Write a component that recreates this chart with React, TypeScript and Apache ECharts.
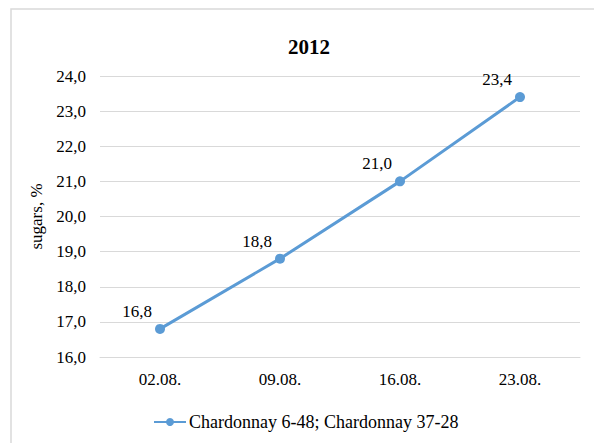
import React, { useEffect, useRef } from "react";
import * as echarts from "echarts";

const categories = ["02.08.", "09.08.", "16.08.", "23.08."];
const sugars = [16.8, 18.8, 21.0, 23.4];
const seriesName = "Chardonnay 6-48; Chardonnay 37-28";
const titleText = "2012";
const yAxisName = "sugars, %";

const fmt = (v: number) => v.toFixed(1).replace(".", ",");
const FONT = "Liberation Serif";

export default function App() {
  const ref = useRef<HTMLDivElement>(null);
  useEffect(() => {
    if (!ref.current) return;
    const chart = echarts.init(ref.current, null, { renderer: "svg" });
    chart.setOption({
      animation: false,
      backgroundColor: "#fff",
      textStyle: { fontFamily: FONT, color: "#000" },
      graphic: [
        {
          type: "rect",
          shape: { x: 11, y: 9, width: 800, height: 600 },
          style: { fill: "none", stroke: "#d9d9d9", lineWidth: 1.5 },
          silent: true,
        },
      ],
      title: {
        text: titleText,
        left: 304,
        top: 31,
        textAlign: "center",
        textStyle: { fontFamily: FONT, fontSize: 21, fontWeight: "bold", color: "#000" },
      },
      grid: { left: 100, right: 14, top: 76, bottom: 86 },
      xAxis: {
        type: "category",
        data: categories,
        boundaryGap: true,
        axisLine: { lineStyle: { color: "#d9d9d9", width: 1 } },
        axisTick: { show: false },
        axisLabel: { fontFamily: FONT, fontSize: 17, color: "#000", margin: 14 },
      },
      yAxis: {
        type: "value",
        min: 16,
        max: 24,
        interval: 1,
        name: yAxisName,
        nameLocation: "middle",
        nameRotate: 90,
        nameGap: 50,
        nameTextStyle: { fontFamily: FONT, fontSize: 17, color: "#000" },
        axisLine: { show: false },
        axisTick: { show: false },
        splitLine: { lineStyle: { color: "#d9d9d9", width: 1 } },
        axisLabel: {
          fontFamily: FONT,
          fontSize: 17,
          color: "#000",
          margin: 14,
          formatter: (v: number) => fmt(v),
        },
      },
      legend: {
        top: 408,
        left: 148,
        itemWidth: 32,
        itemHeight: 10,
        itemGap: 3,
        textStyle: { fontFamily: FONT, fontSize: 18, color: "#000", padding: [0, 0, 0, -2] },
        data: [seriesName],
      },
      series: [
        {
          name: seriesName,
          type: "line",
          data: sugars,
          symbol: "circle",
          symbolSize: 10,
          lineStyle: { color: "#5B9BD5", width: 3 },
          itemStyle: { color: "#5B9BD5" },
          label: {
            show: true,
            position: "top",
            offset: [-23, 1],
            fontFamily: FONT,
            fontSize: 17,
            color: "#000",
            formatter: (p: any) => fmt(p.value),
          },
        },
      ],
    });
    return () => chart.dispose();
  }, []);
  return (
    <div
      ref={ref}
      style={{ position: "fixed", left: 0, top: 0, width: 594, height: 443 }}
    />
  );
}
